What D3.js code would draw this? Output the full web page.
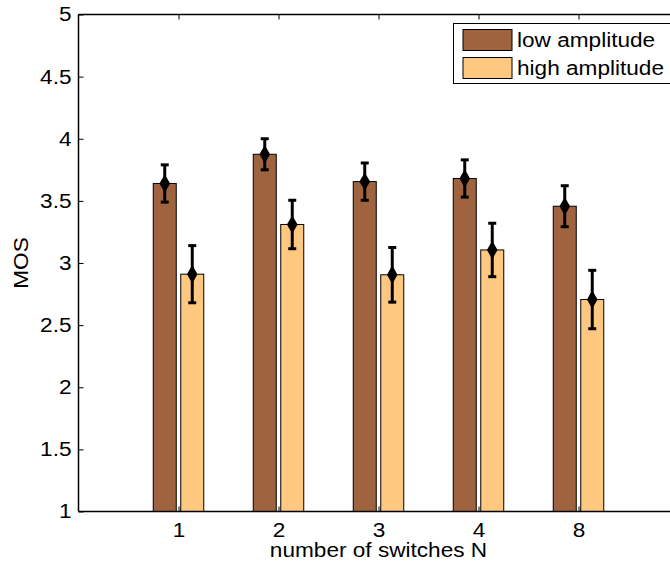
<!DOCTYPE html>
<html><head><meta charset="utf-8">
<script src="https://cdn.jsdelivr.net/npm/d3@7"></script>
<style>body{margin:0;background:#fff}svg{display:block;font-family:"Liberation Sans",Arial,sans-serif}</style>
</head><body><svg id="c" width="670" height="567"></svg>
<script>
const categories = ["1","2","3","4","8"];
const seriesNames = ["low amplitude","high amplitude"];
const lowValues = [3.64, 3.875, 3.655, 3.68, 3.457];
const lowErrors = [0.15, 0.125, 0.15, 0.15, 0.165];
const highValues = [2.91, 3.31, 2.905, 3.105, 2.706];
const highErrors = [0.23, 0.195, 0.22, 0.215, 0.235];
const yTicks = [1,1.5,2,2.5,3,3.5,4,4.5,5];
const colors = ["#A0633F","#FFC881"];

const svg = d3.select("#c");
const L=78.5, R=678.5, T=14.5, B=511.5;
const x = d3.scaleLinear().domain([0,6]).range([L,R]);
const y = d3.scaleLinear().domain([1,5]).range([B,T]);
const fs = 20, stretch = 1.13;

function widen(sel){
  sel.each(function(){
    const w = this.getComputedTextLength();
    d3.select(this).attr("textLength", w*stretch).attr("lengthAdjust","spacingAndGlyphs");
  });
}

const series = [
  {name: seriesNames[0], vals: lowValues, errs: lowErrors, color: colors[0], off: -0.1375},
  {name: seriesNames[1], vals: highValues, errs: highErrors, color: colors[1], off: 0.1375}
];
const bw = 0.23;

// bars
series.forEach(s => {
  svg.append("g").selectAll("rect").data(categories).join("rect")
    .attr("x", (d,i) => x(i+1+s.off-bw/2))
    .attr("width", x(bw)-x(0))
    .attr("y", (d,i) => y(s.vals[i]))
    .attr("height", (d,i) => y(1)-y(s.vals[i]))
    .attr("fill", s.color).attr("stroke", "#000").attr("stroke-width", 1);
});

// axes box
const g = svg.append("g");
g.append("line").attr("x1",L).attr("x2",R).attr("y1",B).attr("y2",B).attr("stroke","#000").attr("stroke-width",1.5);
g.append("line").attr("x1",L).attr("x2",R).attr("y1",T).attr("y2",T).attr("stroke","#000").attr("stroke-width",1.5);
g.append("line").attr("x1",L).attr("x2",L).attr("y1",T).attr("y2",B).attr("stroke","#000").attr("stroke-width",1.5);

// y ticks
const yAxis = d3.axisLeft(y).tickValues(yTicks).tickSize(-5).tickPadding(7).tickFormat(d3.format("~g"));
const ya = svg.append("g").attr("transform",`translate(${L},0)`).call(yAxis);
ya.select(".domain").remove();
ya.selectAll("text").attr("font-size",fs).attr("font-family","Liberation Sans, Arial").attr("fill","#000").call(widen);
ya.selectAll("line").attr("stroke","#000");

// x ticks
const xAxis = d3.axisBottom(x).tickValues([1,2,3,4,5]).tickSize(-5).tickPadding(11).tickFormat(d => categories[d-1]);
const xa = svg.append("g").attr("transform",`translate(0,${B})`).call(xAxis);
xa.select(".domain").remove();
xa.selectAll("text").attr("font-size",fs).attr("font-family","Liberation Sans, Arial").attr("fill","#000").call(widen);
svg.append("g").attr("transform",`translate(0,${T})`).call(d3.axisTop(x).tickValues([1,2,3,4,5]).tickSize(-5).tickFormat(""))
  .call(a=>a.select(".domain").remove());

// error bars
series.forEach(s => {
  const eg = svg.append("g");
  categories.forEach((c,i) => {
    const cx = x(i+1+s.off);
    const y1 = y(s.vals[i]+s.errs[i]), y0 = y(s.vals[i]-s.errs[i]);
    eg.append("line").attr("x1",cx).attr("x2",cx).attr("y1",y1).attr("y2",y0).attr("stroke","#000").attr("stroke-width",3);
    [y1,y0].forEach(yy => eg.append("line").attr("x1",cx-4).attr("x2",cx+4).attr("y1",yy).attr("y2",yy).attr("stroke","#000").attr("stroke-width",3));
    eg.append("path").attr("d", d3.symbol(d3.symbolDiamond, 60)()).attr("transform",`translate(${cx},${y(s.vals[i])})`).attr("fill","#000").attr("stroke","#000").attr("stroke-width",2).attr("stroke-linejoin","round");
  });
});

// axis titles
svg.append("text").attr("x", x(3)).attr("y", 557).attr("text-anchor","middle").attr("font-size",fs).text("number of switches N").call(widen);
svg.append("text").attr("transform",`translate(28,${(T+B)/2}) rotate(-90)`).attr("text-anchor","middle").attr("font-size",fs).text("MOS").call(widen);

// legend
const lg = svg.append("g");
lg.append("rect").attr("x",453.5).attr("y",23.5).attr("width",220).attr("height",60).attr("fill","#fff").attr("stroke","#000").attr("stroke-width",1);
series.forEach((s,i) => {
  lg.append("rect").attr("x",463).attr("y",29.5+i*28).attr("width",49).attr("height",21).attr("fill",s.color).attr("stroke","#000").attr("stroke-width",1);
  lg.append("text").attr("x",517).attr("y",47+i*28).attr("font-size",fs).text(s.name).call(widen);
});
</script></body></html>
